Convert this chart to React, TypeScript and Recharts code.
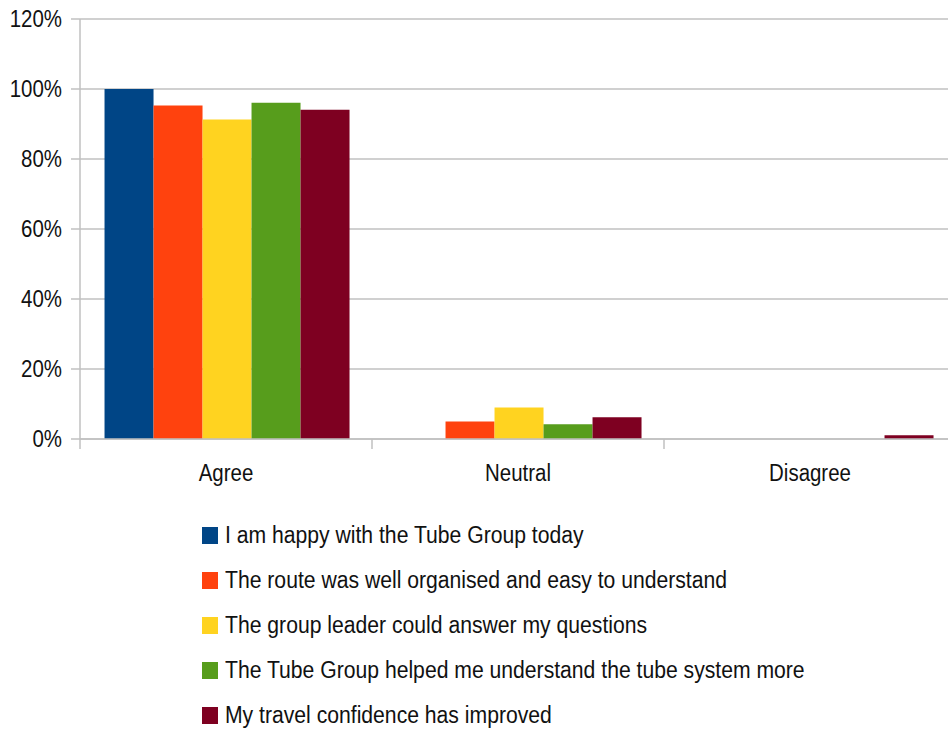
import React from 'react';
import { BarChart, Bar, XAxis, YAxis, CartesianGrid, Legend } from 'recharts';

const categories = ['Agree', 'Neutral', 'Disagree'];

const seriesNames = [
  'I am happy with the Tube Group today',
  'The route was well organised and easy to understand',
  'The group leader could answer my questions',
  'The Tube Group helped me understand the tube system more',
  'My travel confidence has improved',
];

const seriesColors = ['#004586', '#ff420e', '#ffd320', '#579d1c', '#7e0021'];

// percentages per category: Agree, Neutral, Disagree
const happy = [100, 0, 0];
const route = [95.3, 5, 0];
const leader = [91.3, 9, 0];
const understand = [96.1, 4.2, 0];
const confidence = [94.1, 6.2, 1.1];

const seriesValues = [happy, route, leader, understand, confidence];

const yTicks = [0, 20, 40, 60, 80, 100, 120];

const data = categories.map((name, i) => {
  const row: Record<string, string | number> = { name };
  seriesValues.forEach((vals, s) => {
    row['s' + s] = vals[i];
  });
  return row;
});

const FONT = '"Liberation Sans", Arial, sans-serif';
const GRID = '#c0c0c0';

const YTick = (props: any) => {
  const { x, y, payload } = props;
  return (
    <text
      transform={`translate(${x},${y}) scale(0.87,1)`}
      textAnchor="end"
      dominantBaseline="central"
      fontFamily={FONT}
      fontSize={23.5}
      fill="#111"
    >
      {payload.value}%
    </text>
  );
};

// category label in the middle, tick marks on the band edges
const XTick = (props: any) => {
  const { x, y, payload, index, visibleTicksCount } = props;
  const half = payload.offset || 0;
  const last = index === (visibleTicksCount ?? categories.length) - 1;
  return (
    <g>
      <line x1={x - half} x2={x - half} y1={y} y2={y + 10} stroke={GRID} strokeWidth={1.5} />
      {last && (
        <line x1={x + half} x2={x + half} y1={y} y2={y + 10} stroke={GRID} strokeWidth={1.5} />
      )}
      <text
        transform={`translate(${x},${y + 34}) scale(0.87,1)`}
        textAnchor="middle"
        dominantBaseline="central"
        fontFamily={FONT}
        fontSize={23.5}
        fill="#111"
      >
        {payload.value}
      </text>
    </g>
  );
};

const LegendBox = () => (
  <div style={{ fontFamily: FONT }}>
    {seriesNames.map((name, i) => (
      <div key={name} style={{ display: 'flex', alignItems: 'center', height: 45 }}>
        <span
          style={{
            display: 'inline-block',
            width: 16,
            height: 17,
            background: seriesColors[i],
            marginRight: 7,
            flexShrink: 0,
          }}
        />
        <span
          style={{
            fontSize: 23.5,
            color: '#111',
            whiteSpace: 'nowrap',
            display: 'inline-block',
            transform: 'scaleX(0.9)',
            transformOrigin: 'left center',
          }}
        >
          {name}
        </span>
      </div>
    ))}
  </div>
);

export default function App() {
  return (
    <div
      style={{
        position: 'absolute',
        left: 0,
        top: 0,
        width: 948,
        height: 733,
        overflow: 'hidden',
        background: '#fff',
      }}
    >
      <BarChart
        width={956}
        height={733}
        data={data}
        margin={{ top: 19, right: 0, left: 0, bottom: 234 }}
        barGap={0}
        barCategoryGap="8.4%"
      >
        <CartesianGrid vertical={false} stroke={GRID} strokeWidth={1.5} />
        <XAxis
          dataKey="name"
          interval={0}
          axisLine={{ stroke: GRID, strokeWidth: 1.5 }}
          tickLine={false}
          tickSize={0}
          tickMargin={0}
          height={60}
          tick={<XTick />}
        />
        <YAxis
          domain={[0, 120]}
          ticks={yTicks}
          interval={0}
          width={80}
          axisLine={{ stroke: GRID, strokeWidth: 1.5 }}
          tickLine={{ stroke: GRID, strokeWidth: 1.5 }}
          tickSize={9}
          tickMargin={9}
          tick={<YTick />}
        />
        <Legend
          layout="vertical"
          align="center"
          verticalAlign="middle"
          content={<LegendBox />}
          wrapperStyle={{ top: 513, left: 202, width: 'auto' }}
        />
        {seriesNames.map((name, i) => (
          <Bar
            key={name}
            dataKey={'s' + i}
            name={name}
            fill={seriesColors[i]}
            isAnimationActive={false}
          />
        ))}
      </BarChart>
    </div>
  );
}
